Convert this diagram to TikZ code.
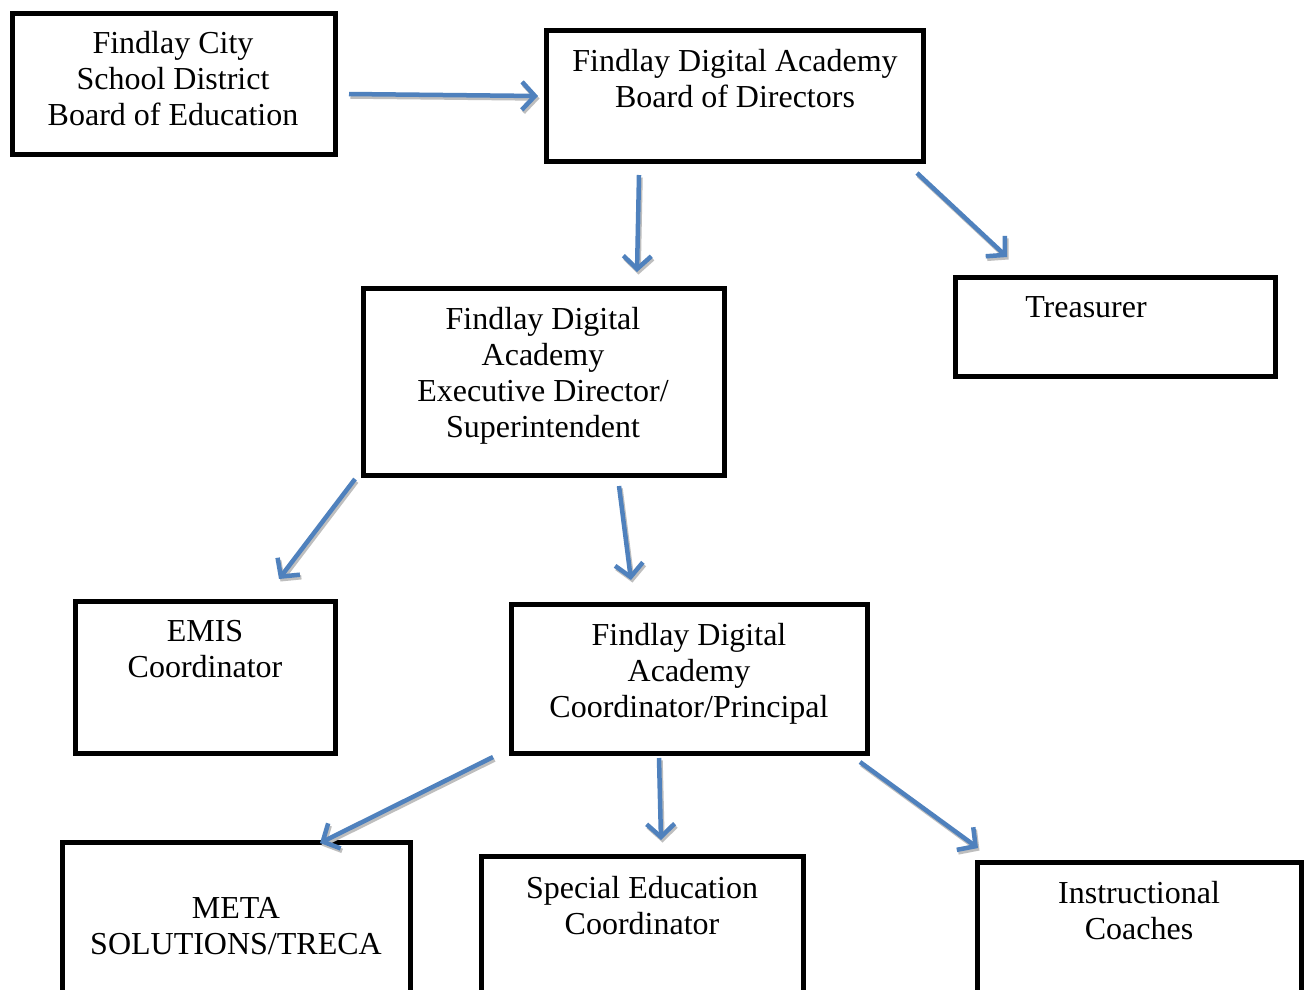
\documentclass[tikz,border=0pt]{standalone}
\usepackage{fontspec}
\setmainfont{Liberation Serif}
\usetikzlibrary{arrows.meta}
\definecolor{arrblue}{RGB}{79,129,189}
\definecolor{shadowgray}{RGB}{190,190,190}
\tikzset{
  box/.style={draw=black, line width=5pt, fill=white},
  boxnode/.style={inner sep=0pt, outer sep=0pt},
  lbl/.style={anchor=north, align=center, inner sep=0pt, font=\fontsize{32}{36}\selectfont},
  arrline/.style={draw=arrblue, line width=4.5pt, -{Straight Barb[length=13pt, width=28pt, line width=4.5pt]}},
  arrshadow/.style={draw=shadowgray, line width=4.5pt, -{Straight Barb[length=13pt, width=28pt, line width=4.5pt]}, transform canvas={shift={(1.5pt,-2.5pt)}}}
}
\begin{document}
\begin{tikzpicture}[x=1pt, y=-1pt]
\useasboundingbox (0,0) rectangle (1305,989);
\clip (0,0) rectangle (1305,989);
\fill[white] (0,0) rectangle (1305,989);

% box frames (positions)
\node[boxnode, minimum width=323pt, minimum height=141pt] (fcs) at (173.5,83.5) {};
\node[boxnode, minimum width=377pt, minimum height=131pt] (fdab) at (735,96) {};
\node[boxnode, minimum width=320pt, minimum height=99pt] (tre) at (1115.5,327) {};
\node[boxnode, minimum width=361pt, minimum height=187pt] (exe) at (544,382) {};
\node[boxnode, minimum width=260pt, minimum height=152pt] (emis) at (205.5,677.5) {};
\node[boxnode, minimum width=356pt, minimum height=149pt] (coord) at (689.5,679) {};
\node[boxnode, minimum width=348pt, minimum height=159pt] (meta) at (236.5,922) {};
\node[boxnode, minimum width=322pt, minimum height=145pt] (sped) at (642.5,929) {};
\node[boxnode, minimum width=324pt, minimum height=140pt] (inst) at (1139.5,932) {};

\foreach \b in {fcs,fdab,tre,exe,emis,coord,meta,sped,inst} {
  \draw[box] (\b.north west) rectangle (\b.south east);
}

% labels
\node[lbl] (t1) at (173,31) {Findlay City\\School District\\Board of Education};
\node[lbl] (t2) at (735,49) {Findlay Digital Academy\\Board of Directors};
\node[lbl] (t3) at (1086,296) {Treasurer};
\node[lbl] (t4) at (543,307) {Findlay Digital\\Academy\\Executive Director/\\Superintendent};
\node[lbl] (t5) at (205,620) {EMIS\\Coordinator};
\node[lbl] (t6) at (689,623) {Findlay Digital\\Academy\\Coordinator/Principal};
\node[lbl] (t7) at (236,897) {META\\SOLUTIONS/TRECA};
\node[lbl] (t8) at (642,876) {Special Education\\Coordinator};
\node[lbl] (t9) at (1139,881) {Instructional\\Coaches};

% connector end points
\coordinate (a1s) at (349,94);  \coordinate (a1e) at (538,96);
\coordinate (a2s) at (639,175); \coordinate (a2e) at (637,272);
\coordinate (a3s) at (917,173); \coordinate (a3e) at (1007,257);
\coordinate (a4s) at (355,479); \coordinate (a4e) at (279,579);
\coordinate (a5s) at (619,486); \coordinate (a5e) at (631,580);
\coordinate (a6s) at (493,757); \coordinate (a6e) at (320,843);
\coordinate (a7s) at (659,758); \coordinate (a7e) at (661,840);
\coordinate (a8s) at (860,762); \coordinate (a8e) at (978,848);

\foreach \i in {1,...,8} {
  \draw[arrshadow] (a\i s) -- (a\i e);
}
\foreach \i in {1,...,8} {
  \draw[arrline] (a\i s) -- (a\i e);
}
\end{tikzpicture}
\end{document}
